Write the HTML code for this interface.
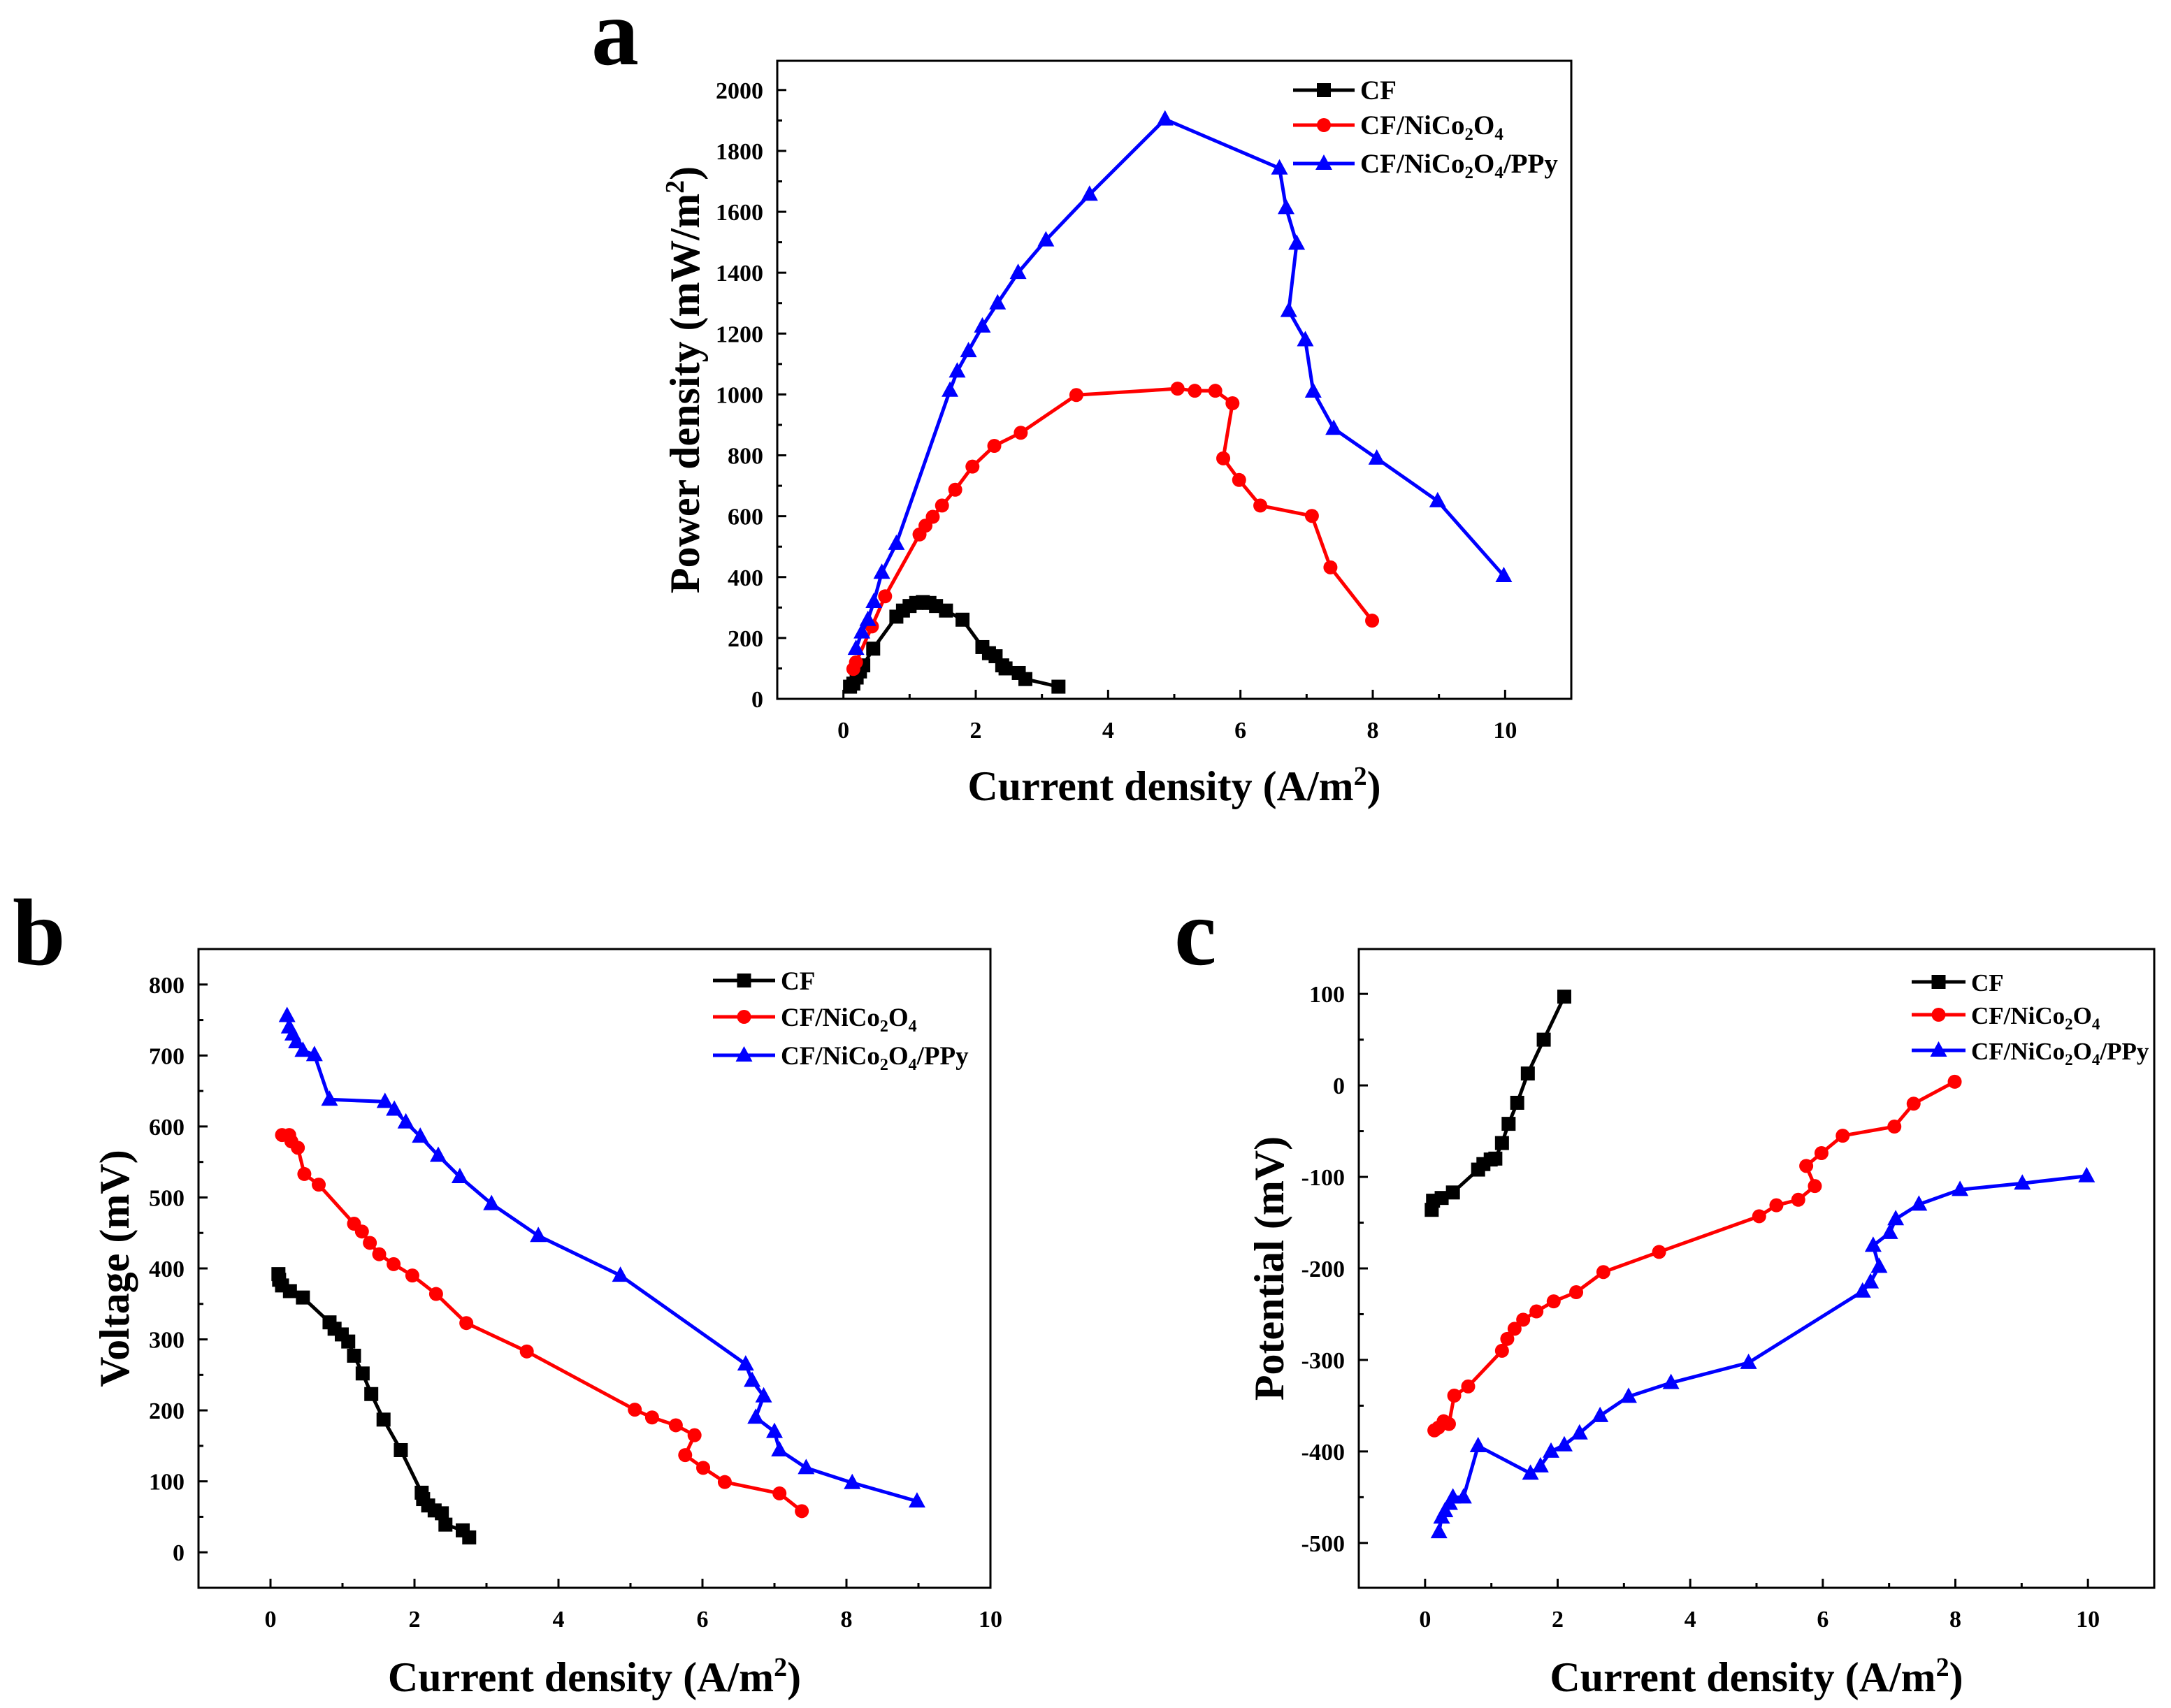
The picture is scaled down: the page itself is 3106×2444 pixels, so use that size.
<!DOCTYPE html>
<html><head><meta charset="utf-8"><style>
html,body{margin:0;padding:0;background:#fff}
svg{display:block}
text{font-family:"Liberation Serif",serif;font-weight:bold;fill:#000}
</style></head><body>
<svg id="fig" width="3106" height="2444" viewBox="0 0 3106 2444" xmlns="http://www.w3.org/2000/svg">
<text x="846" y="92" font-size="136">a</text>
<text x="18" y="1380" font-size="136">b</text>
<text x="1680" y="1380" font-size="136">c</text>
</svg>
<script>
// ---- Panel a: power density ----
const aCF_x=[0.1,0.15,0.2,0.25,0.3,0.45,0.8,0.9,1.0,1.1,1.2,1.3,1.4,1.55,1.8,2.1,2.2,2.3,2.4,2.45,2.65,2.75,3.25];
const aCF_y=[40,50,70,90,110,165,270,290,305,315,318,315,305,290,260,170,150,140,110,100,85,65,40];
const aNi_x=[0.15,0.19,0.43,0.63,1.15,1.24,1.35,1.49,1.69,1.95,2.28,2.68,3.52,5.05,5.31,5.62,5.88,5.74,5.98,6.3,7.08,7.36,7.99];
const aNi_y=[98,120,238,337,540,569,598,635,687,763,831,874,998,1019,1012,1012,971,790,719,635,601,432,257];
const aPPy_x=[0.19,0.28,0.37,0.46,0.58,0.8,1.61,1.72,1.89,2.1,2.33,2.64,3.06,3.72,4.86,6.59,6.69,6.85,6.73,6.98,7.1,7.41,8.06,8.98,9.98];
const aPPy_y=[165,219,260,319,415,510,1013,1076,1143,1224,1300,1400,1507,1657,1904,1743,1613,1496,1275,1179,1010,888,790,650,404];
const aXTicks=[0,2,4,6,8,10];
const aYTicks=[0,200,400,600,800,1000,1200,1400,1600,1800,2000];
// ---- Panel b: voltage ----
const bCF_x=[0.11,0.12,0.16,0.27,0.45,0.82,0.89,0.99,1.08,1.16,1.28,1.4,1.57,1.81,2.1,2.12,2.19,2.28,2.38,2.43,2.67,2.76];
const bCF_y=[392,384,376,368,359,324,315,307,297,277,252,223,187,144,84,75,66,59,55,39,31,21];
const bNi_x=[0.16,0.26,0.29,0.38,0.47,0.67,1.16,1.27,1.38,1.51,1.71,1.97,2.3,2.72,3.56,5.06,5.3,5.63,5.89,5.76,6.01,6.31,7.07,7.38];
const bNi_y=[588,588,579,570,533,518,463,452,436,420,406,390,364,323,283,201,190,179,165,137,119,99,83,58];
const bPPy_x=[0.23,0.26,0.31,0.36,0.45,0.61,0.82,1.59,1.72,1.88,2.08,2.33,2.63,3.07,3.72,4.86,6.6,6.69,6.85,6.74,7.0,7.07,7.44,8.08,8.98];
const bPPy_y=[756,740,730,719,707,701,638,635,624,606,586,559,529,491,446,390,265,242,220,190,170,144,119,98,72];
const bXTicks=[0,2,4,6,8,10];
const bYTicks=[0,100,200,300,400,500,600,700,800];
// ---- Panel c: potential ----
const cCF_x=[0.1,0.12,0.25,0.42,0.8,0.88,0.99,1.06,1.16,1.26,1.39,1.55,1.79,2.1];
const cCF_y=[-136,-126,-123,-117,-92,-86,-81,-80,-63,-42,-19,13,50,97];
const cNi_x=[0.14,0.2,0.28,0.36,0.44,0.65,1.16,1.24,1.35,1.48,1.68,1.94,2.28,2.69,3.53,5.04,5.3,5.63,5.88,5.75,5.98,6.3,7.08,7.37,7.99];
const cNi_y=[-377,-374,-367,-370,-339,-329,-290,-277,-266,-256,-247,-236,-226,-204,-182,-143,-131,-125,-110,-88,-74,-55,-45,-20,4];
const cPPy_x=[0.21,0.25,0.3,0.37,0.42,0.58,0.8,1.59,1.74,1.9,2.1,2.33,2.64,3.07,3.71,4.88,6.6,6.72,6.85,6.76,7.01,7.1,7.45,8.07,9.01,9.98];
const cPPy_y=[-488,-472,-465,-457,-450,-450,-394,-424,-416,-400,-393,-380,-361,-340,-325,-303,-225,-215,-198,-175,-161,-146,-130,-114,-107,-99];
const cXTicks=[0,2,4,6,8,10];
const cYTicks=[-500,-400,-300,-200,-100,0,100];
const legendNames=["CF","CF/NiCo2O4","CF/NiCo2O4/PPy"];

const NS="http://www.w3.org/2000/svg";
const svg=document.getElementById('fig');
function mk(tag,attrs,parent){const e=document.createElementNS(NS,tag);for(const k in attrs)e.setAttribute(k,attrs[k]);(parent||svg).appendChild(e);return e;}

function panel(id,P){
  const g=mk('g',{});
  
  
  const sx=v=>P.L+(v-P.x0)/(P.x1-P.x0)*(P.R-P.L);
  const sy=v=>P.B-(v-P.y0)/(P.y1-P.y0)*(P.B-P.T);
  const fr=mk('rect',{x:P.L,y:P.T,width:P.R-P.L,height:P.B-P.T,fill:'none',stroke:'#000','stroke-width':3},g);
  
  
  const xstep=P.xt[1]-P.xt[0];
  for(let i=0;i<P.xt.length;i++){
    const v=P.xt[i];
    mk('line',{x1:sx(v),x2:sx(v),y1:P.B,y2:P.B-13,stroke:'#000','stroke-width':3},g);
    const m=v+xstep/2; if(sx(m)<P.R) mk('line',{x1:sx(m),x2:sx(m),y1:P.B,y2:P.B-7,stroke:'#000','stroke-width':3},g);
    const t=mk('text',{x:sx(v),y:P.B+56,'font-size':34,'text-anchor':'middle'},g);
    t.textContent=v;
    
    
  }
  const ystep=P.yt[1]-P.yt[0];
  for(let i=0;i<P.yt.length;i++){
    const v=P.yt[i];
    mk('line',{x1:P.L,x2:P.L+13,y1:sy(v),y2:sy(v),stroke:'#000','stroke-width':3},g);
    const m=v+ystep/2; if(sy(m)>P.T) mk('line',{x1:P.L,x2:P.L+7,y1:sy(m),y2:sy(m),stroke:'#000','stroke-width':3},g);
    const t=mk('text',{x:P.L-20,y:sy(v)+12,'font-size':34,'text-anchor':'end'},g);
    t.textContent=v;
    
    
  }
  const xt=mk('text',{x:(P.L+P.R)/2,y:P.xtY,'font-size':60,'text-anchor':'middle'},g);
  xt.innerHTML='Current density (A/m<tspan dy="-22" font-size="38">2</tspan><tspan dy="22">)</tspan>';
  
  
  const yt=mk('text',{x:0,y:0,'font-size':60,'text-anchor':'middle',transform:`translate(${P.ytX},${(P.T+P.B)/2}) rotate(-90)`},g);
  yt.innerHTML=P.ytitle;
  
  
  const cols=['#000','#f00','#00f'];
  const shapes=['sq','ci','tr'];
  const series=P.series;
  function marker(sh,x,y,c,par){
    if(sh==='sq') return mk('rect',{x:x-10,y:y-10,width:20,height:20,fill:c},par);
    if(sh==='ci') return mk('circle',{cx:x,cy:y,r:10,fill:c},par);
    return mk('polygon',{points:`${x},${y-13} ${x-12},${y+9} ${x+12},${y+9}`,fill:c},par);
  }
  for(let s=0;s<3;s++){
    const xs=series[s][0],ys=series[s][1];
    const sg=mk('g',{},g);
    
    
    const pts=xs.map((v,i)=>sx(v)+','+sy(ys[i])).join(' ');
    mk('polyline',{points:pts,fill:'none',stroke:cols[s],'stroke-width':5,'stroke-linejoin':'round'},sg);
    for(let i=0;i<xs.length;i++){
      const mkr=marker(shapes[s],sx(xs[i]),sy(ys[i]),cols[s],sg);
      
      
    }
    const ly=P.leg.y[s];
    const lg=mk('g',{},g);
    
    
    mk('line',{x1:P.leg.x1,x2:P.leg.x2,y1:ly,y2:ly,stroke:cols[s],'stroke-width':5},lg);
    marker(shapes[s],(P.leg.x1+P.leg.x2)/2,ly,cols[s],lg);
    const lt=mk('text',{x:P.leg.x2+8,y:ly+13,'font-size':P.leg.fs},lg);
    const n=legendNames[s];
    if(n==='CF') lt.textContent='CF';
    else lt.innerHTML='CF/NiCo<tspan dy="8" font-size="'+Math.round(P.leg.fs*0.65)+'">2</tspan><tspan dy="-8">O</tspan><tspan dy="8" font-size="'+Math.round(P.leg.fs*0.65)+'">4</tspan><tspan dy="-8">'+(n.endsWith('PPy')?'/PPy':'')+'</tspan>';
  }
}
panel('power',{L:1112,R:2248,T:87,B:1000,x0:-1,x1:11,y0:0,y1:2096,xt:aXTicks,yt:aYTicks,xtY:1145,ytX:1000,
  ytitle:'Power density (mW/m<tspan dy="-22" font-size="38">2</tspan><tspan dy="22">)</tspan>',
  series:[[aCF_x,aCF_y],[aNi_x,aNi_y],[aPPy_x,aPPy_y]],leg:{x1:1850,x2:1938,y:[129,179,234],fs:39}});
panel('voltage',{L:284,R:1417,T:1358,B:2272,x0:-1,x1:10,y0:-50,y1:850,xt:bXTicks,yt:bYTicks,xtY:2420,ytX:184,
  ytitle:'Voltage (mV)',
  series:[[bCF_x,bCF_y],[bNi_x,bNi_y],[bPPy_x,bPPy_y]],leg:{x1:1020,x2:1109,y:[1403,1455,1510],fs:37}});
panel('potential',{L:1944,R:3082,T:1358,B:2272,x0:-1,x1:11,y0:-549,y1:149,xt:cXTicks,yt:cYTicks,xtY:2420,ytX:1836,
  ytitle:'Potential (mV)',
  series:[[cCF_x,cCF_y],[cNi_x,cNi_y],[cPPy_x,cPPy_y]],leg:{x1:2735,x2:2812,y:[1405,1452,1503],fs:35}});
</script>
</body></html>
